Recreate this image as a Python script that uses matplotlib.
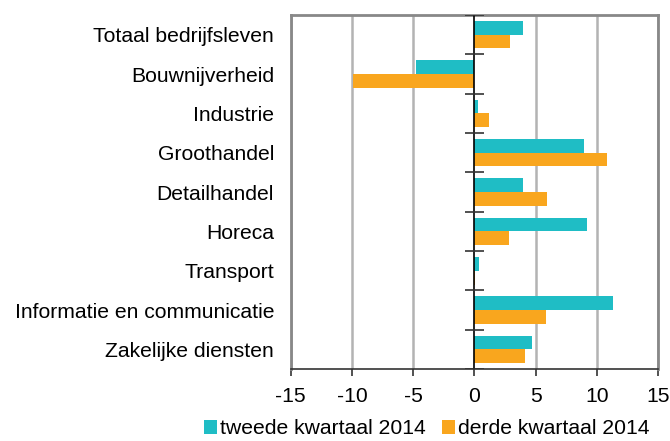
import numpy as np
import matplotlib
matplotlib.use('Agg')
import matplotlib.pyplot as plt

plt.rcParams['font.family'] = ['Liberation Sans', 'DejaVu Sans']

# data
categories = ['Totaal bedrijfsleven', 'Bouwnijverheid', 'Industrie', 'Groothandel',
              'Detailhandel', 'Horeca', 'Transport', 'Informatie en communicatie',
              'Zakelijke diensten']
q2 = [4.0, -4.8, 0.27, 8.97, 3.94, 9.2, 0.41, 11.3, 4.7]
q3 = [2.88, -9.95, 1.17, 10.8, 5.9, 2.83, 0.08, 5.84, 4.1]
series_names = ['tweede kwartaal 2014', 'derde kwartaal 2014']
xticks = [-15, -10, -5, 0, 5, 10, 15]

teal = '#1FBDC5'
orange = '#F9A61E'
fs = 15.2

fig = plt.figure(figsize=(6.7, 4.41), dpi=100)
ax = fig.add_axes([0.434, 0.163, 0.548, 0.803])

y = np.arange(len(categories))
h = 0.35
ax.barh(y - h / 2, q2, height=h, color=teal, label=series_names[0], zorder=3)
ax.barh(y + h / 2, q3, height=h, color=orange, label=series_names[1], zorder=3)

ax.set_xlim(-15, 15)
ax.set_ylim(len(categories) - 0.5, -0.5)
ax.set_xticks(xticks)
ax.set_xticklabels([str(t) for t in xticks], fontsize=fs)
ax.set_yticks(y)
ax.set_yticklabels(categories, fontsize=fs)
ax.tick_params(axis='y', length=0, pad=12)
ax.tick_params(axis='x', direction='out', length=5, width=1.2, color='#333333', pad=8)

# grid
for t in xticks:
    if t != 0:
        ax.axvline(t, color='#b3b3b3', lw=1.8, zorder=1)

# zero axis with category boundary ticks
ax.axvline(0, color='black', lw=1.2, zorder=4)
bounds = np.arange(len(categories) + 1) - 0.5
ax.hlines(bounds, -0.8, 0.8, color='#333333', lw=1.2, zorder=4)

for s in ['left', 'right', 'top']:
    ax.spines[s].set_color('#888888')
    ax.spines[s].set_linewidth(2)
ax.spines['bottom'].set_color('#333333')
ax.spines['bottom'].set_linewidth(1.2)

fig.legend(loc='lower center', bbox_to_anchor=(0.637, -0.037), ncol=2, frameon=False,
           fontsize=fs, handlelength=0.6, handleheight=0.6, handletextpad=0.15,
           columnspacing=0.8)

fig.savefig('out.png', dpi=100)
